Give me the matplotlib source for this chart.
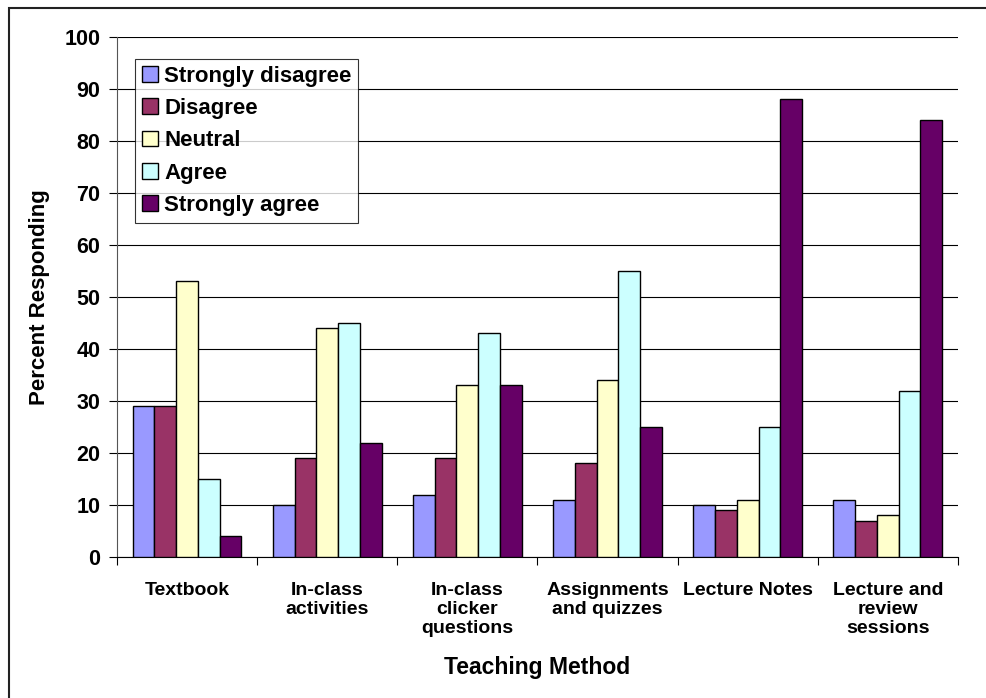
import matplotlib.pyplot as plt
import numpy as np

plt.rcParams['font.family'] = ['Liberation Sans', 'DejaVu Sans']
plt.rcParams['font.weight'] = 'bold'

methods = ['Textbook', 'In-class\nactivities', 'In-class\nclicker\nquestions',
           'Assignments\nand quizzes', 'Lecture Notes', 'Lecture and\nreview\nsessions']
responses = ['Strongly disagree', 'Disagree', 'Neutral', 'Agree', 'Strongly agree']

strongly_disagree = [29, 10, 12, 11, 10, 11]
disagree = [29, 19, 19, 18, 9, 7]
neutral = [53, 44, 33, 34, 11, 8]
agree = [15, 45, 43, 55, 25, 32]
strongly_agree = [4, 22, 33, 25, 88, 84]

colors = ['#9999FF', '#993366', '#FFFFCC', '#CCFFFF', '#660066']
series = [strongly_disagree, disagree, neutral, agree, strongly_agree]

fig = plt.figure(figsize=(9.87, 6.98), dpi=100)
ax = fig.add_axes([0.1185, 0.202, 0.852, 0.745])

# outer frame round the whole chart (right and bottom edges run off the canvas)
fig.patches.append(plt.Rectangle((0.009, -0.05), 1.1, 1.039, transform=fig.transFigure,
                                 fill=False, edgecolor='#222222', linewidth=1.5))

x = np.arange(len(methods))
w = 0.155
for i, (vals, name) in enumerate(zip(series, responses)):
    ax.bar(x + (i - 2) * w, vals, w, color=colors[i], edgecolor='black',
           linewidth=1, label=name, zorder=3)

ax.set_xlim(-0.5, len(methods) - 0.5)
ax.set_ylim(0, 100)
ax.set_yticks(range(0, 101, 10))
ax.yaxis.grid(True, color='black', linewidth=0.8, zorder=0)
ax.set_xticks(np.arange(-0.5, len(methods), 1))
ax.set_xticklabels([])
ax.set_xticks(x, minor=True)
ax.set_xticklabels(methods, minor=True, fontsize=14, fontweight='bold', linespacing=1.15)
ax.tick_params(axis='x', which='minor', length=0, pad=18)
ax.tick_params(axis='x', which='major', length=6, direction='out', color='black')
ax.tick_params(axis='y', labelsize=15.5, length=6, direction='out', pad=6)

for side in ['top', 'right']:
    ax.spines[side].set_visible(False)
ax.spines['left'].set_color('#555555')
ax.spines['bottom'].set_color('black')

ax.set_ylabel('Percent Responding', fontsize=16, fontweight='bold', labelpad=10)
ax.set_xlabel('Teaching Method', fontsize=16.5, fontweight='bold', labelpad=14)

leg = ax.legend(loc='upper left', bbox_to_anchor=(0.022, 0.958), fontsize=16,
                frameon=True, fancybox=False, edgecolor='black', handlelength=0.7,
                handleheight=0.7, handletextpad=0.3, labelspacing=0.51, borderpad=0.3,
                borderaxespad=0)
leg.get_frame().set_linewidth(0.8)

plt.savefig('out.png', dpi=100)
